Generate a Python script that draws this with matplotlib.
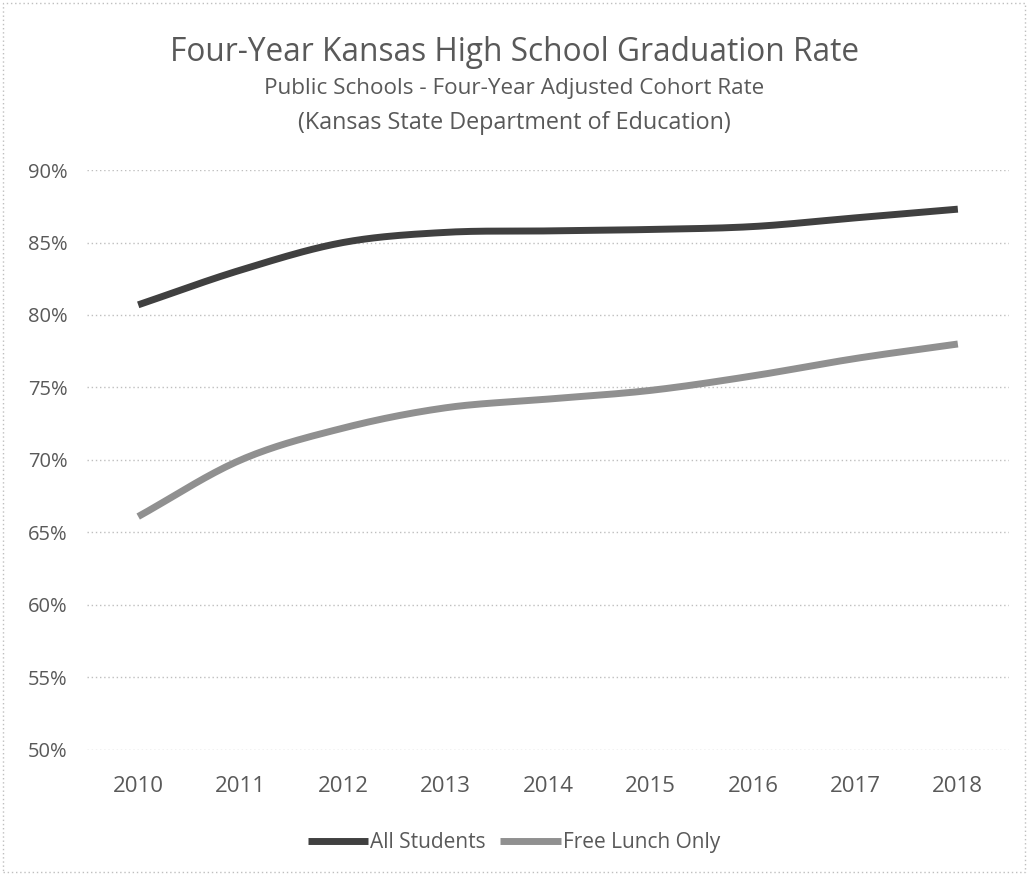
import numpy as np
import matplotlib
matplotlib.use('Agg')
import matplotlib.pyplot as plt
from matplotlib.patches import Rectangle
from matplotlib.ticker import PercentFormatter

years = ['2010', '2011', '2012', '2013', '2014', '2015', '2016', '2017', '2018']
all_students = [80.7, 83.1, 85.0, 85.7, 85.8, 85.9, 86.1, 86.7, 87.3]
free_lunch = [66.1, 70.0, 72.2, 73.6, 74.2, 74.8, 75.8, 77.0, 78.0]
y_ticks = [50, 55, 60, 65, 70, 75, 80, 85, 90]

text_color = '#595959'
plt.rcParams['font.family'] = ['Open Sans', 'DejaVu Sans']


def smooth(xs, ys, steps=20):
    # Catmull-Rom curve through the points, like a "smoothed line" chart
    xs = np.asarray(xs, float)
    ys = np.asarray(ys, float)
    px = np.concatenate([[2 * xs[0] - xs[1]], xs, [2 * xs[-1] - xs[-2]]])
    py = np.concatenate([[2 * ys[0] - ys[1]], ys, [2 * ys[-1] - ys[-2]]])
    out_x, out_y = [], []
    t = np.linspace(0, 1, steps, endpoint=False)
    for i in range(1, len(px) - 2):
        for p, out in ((px, out_x), (py, out_y)):
            p0, p1, p2, p3 = p[i - 1], p[i], p[i + 1], p[i + 2]
            out.extend(0.5 * ((2 * p1) + (-p0 + p2) * t
                              + (2 * p0 - 5 * p1 + 4 * p2 - p3) * t ** 2
                              + (-p0 + 3 * p1 - 3 * p2 + p3) * t ** 3))
    out_x.append(xs[-1])
    out_y.append(ys[-1])
    return np.array(out_x), np.array(out_y)


fig = plt.figure(figsize=(10.28, 8.75), dpi=100)
ax = fig.add_axes([0.0846, 0.1429, 0.897, 0.6628])

x = np.arange(len(years))
sx, sy = smooth(x, all_students)
ax.plot(sx, sy, color='#404040', lw=5, solid_capstyle='butt', label='All Students')
sx, sy = smooth(x, free_lunch)
ax.plot(sx, sy, color='#909090', lw=5, solid_capstyle='butt', label='Free Lunch Only')

ax.set_xlim(-0.5, len(years) - 0.5)
ax.set_ylim(50, 90)
ax.set_xticks(x)
ax.set_xticklabels(years)
ax.set_yticks(y_ticks)
ax.yaxis.set_major_formatter(PercentFormatter(decimals=0))
ax.tick_params(length=0, colors=text_color)
ax.tick_params(axis='x', pad=19, labelsize=16)
ax.tick_params(axis='y', pad=14, labelsize=14.5)
ax.grid(axis='y', color='#bfbfbf', lw=1, ls=(0, (1, 2)))
ax.set_axisbelow(True)
for s in ax.spines.values():
    s.set_visible(False)

fig.text(0.5, 0.940, 'Four-Year Kansas High School Graduation Rate',
         ha='center', va='center', fontsize=22.8, color=text_color)
fig.text(0.5, 0.899, 'Public Schools - Four-Year Adjusted Cohort Rate',
         ha='center', va='center', fontsize=16.2, color=text_color)
fig.text(0.5, 0.859, '(Kansas State Department of Education)',
         ha='center', va='center', fontsize=16.8, color=text_color)

fig.legend(loc='center', bbox_to_anchor=(0.5, 0.037), ncol=2, frameon=False,
           fontsize=15, labelcolor=text_color, handlelength=2.9,
           handletextpad=0.1, columnspacing=0.7)

# dotted chart-area border
fig.patches.append(Rectangle((0.003, 0.003), 0.994, 0.994, transform=fig.transFigure,
                             fill=False, edgecolor='#bfbfbf', lw=1, ls=(0, (1, 2))))

fig.savefig('out.png', dpi=100, facecolor='white')
